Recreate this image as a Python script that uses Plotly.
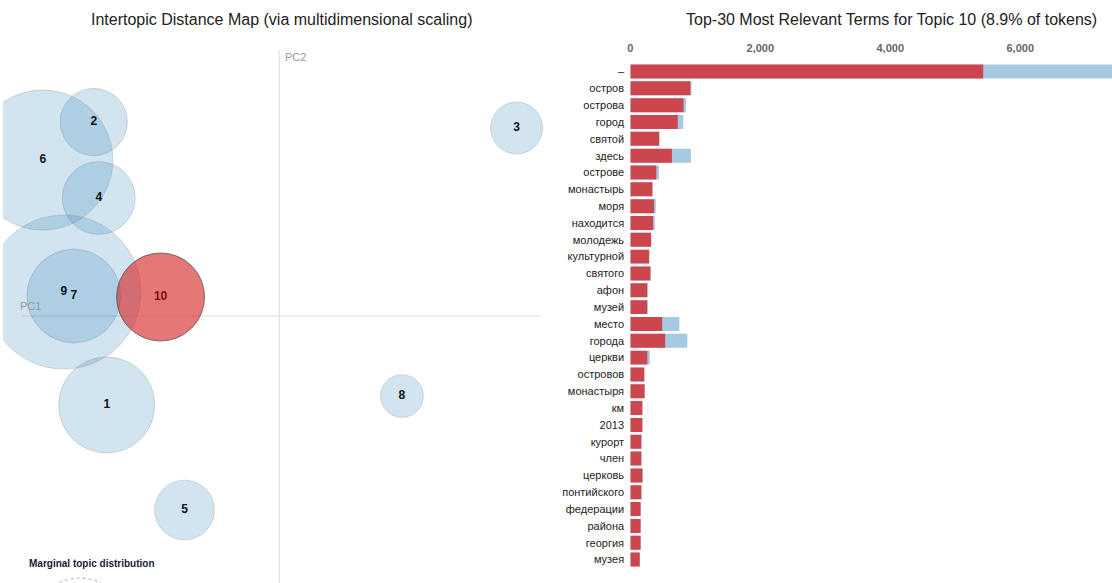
import numpy as np
import plotly.graph_objects as go

W, H = 1112, 583

# ---- topic map (MDS coordinates, marginal topic share in %) ----
topics = [1, 2, 3, 4, 5, 6, 7, 8, 9, 10]
pc1 = [-0.173, -0.186, 0.238, -0.181, -0.095, -0.237, -0.206, 0.123, -0.216, -0.119]
pc2 = [-0.089, 0.194, 0.188, 0.118, -0.194, 0.156, 0.020, -0.080, 0.024, 0.019]
topic_share = [10.6, 5.2, 3.1, 6.1, 4.1, 22.5, 10.1, 2.1, 27.3, 8.9]
selected_topic = 10
legend_share = 10

# ---- top-30 terms for the selected topic ----
terms = ["–", "остров", "острова", "город", "святой", "здесь", "острове", "монастырь",
         "моря", "находится", "молодежь", "культурной", "святого", "афон", "музей",
         "место", "города", "церкви", "островов", "монастыря", "км", "2013", "курорт",
         "член", "церковь", "понтийского", "федерации", "района", "георгия", "музея"]
topic_freq = [5430, 925, 820, 730, 445, 640, 400, 340, 365, 350, 320, 290, 310, 262, 262,
              490, 537, 262, 215, 220, 185, 185, 170, 170, 185, 170, 158, 158, 158, 145]
total_freq = [7600, 940, 857, 815, 447, 933, 440, 342, 393, 378, 322, 292, 312, 264, 264,
              755, 877, 300, 217, 222, 187, 187, 172, 172, 196, 172, 160, 160, 160, 147]
freq_ticks = [0, 2000, 4000, 6000]

FONT = "Liberation Sans, Arial, sans-serif"

# pixel layout helpers
def px_x(p):
    return p / W

def px_y(p):
    return 1 - p / H

PX_PER_UNIT = 1000.0          # map scale of the MDS panel
RADIUS_K = 14.75              # circle radius (px) per sqrt(% share)
map_left, map_right = 0, 545
origin_x, origin_y = 277, 316

x_range = [(map_left - origin_x) / PX_PER_UNIT, (map_right - origin_x) / PX_PER_UNIT]
y_range = [(origin_y - H) / PX_PER_UNIT, origin_y / PX_PER_UNIT]

sizes = [2 * RADIUS_K * np.sqrt(s) for s in topic_share]
fill = ["rgba(214,39,40,0.63)" if t == selected_topic else "rgba(31,119,180,0.2)" for t in topics]
edge = ["rgba(80,80,80,0.75)" if t == selected_topic else "rgba(150,150,150,0.35)" for t in topics]
label_col = ["#7a0f12" if t == selected_topic else "#111111" for t in topics]

fig = go.Figure()

fig.add_trace(go.Scatter(
    x=pc1, y=pc2, mode="markers+text",
    text=[f"<b>{t}</b>" for t in topics],
    textposition="middle center",
    textfont=dict(family=FONT, size=12, color=label_col),
    marker=dict(size=sizes, sizemode="diameter", color=fill, opacity=1,
                line=dict(color=edge, width=1)),
    xaxis="x", yaxis="y", hoverinfo="skip", showlegend=False, cliponaxis=True,
))

# bar chart: overall term frequency behind, topic-specific frequency in front
fig.add_trace(go.Bar(
    y=terms, x=total_freq, orientation="h", width=0.83,
    marker=dict(color="rgba(31,119,180,0.4)", line=dict(width=0)),
    xaxis="x2", yaxis="y2", name="Overall term frequency", showlegend=False,
))
fig.add_trace(go.Bar(
    y=terms, x=topic_freq, orientation="h", width=0.83,
    marker=dict(color="rgba(214,39,40,0.8)", line=dict(width=0)),
    xaxis="x2", yaxis="y2", name="Estimated term frequency within the selected topic",
    showlegend=False,
))

# bar panel geometry
row_step = 16.83
first_row = 71.5
bar_top = first_row - row_step / 2
bar_bottom = bar_top + row_step * len(terms)
bar_left = 629
units_per_px = 6000 / (1020 - bar_left)

fig.update_layout(
    width=W, height=H,
    margin=dict(l=0, r=0, t=0, b=0),
    paper_bgcolor="white", plot_bgcolor="white",
    barmode="overlay",
    font=dict(family=FONT, size=11, color="#333"),
    xaxis=dict(domain=[px_x(map_left), px_x(map_right)], range=x_range,
               visible=False, fixedrange=True),
    yaxis=dict(domain=[0, 1], range=y_range, visible=False, fixedrange=True),
    xaxis2=dict(domain=[px_x(bar_left), 1], range=[0, (W - bar_left) * units_per_px],
                side="top", anchor="y2", tickvals=freq_ticks, tickformat=",d",
                showgrid=False, zeroline=False, showline=False,
                ticks="outside", ticklen=6, tickcolor="rgba(0,0,0,0)",
                tickfont=dict(family=FONT, size=11, color="#666", weight="bold")),
    yaxis2=dict(domain=[px_y(bar_bottom), px_y(bar_top)], type="category",
                categoryorder="array", categoryarray=terms, autorange="reversed",
                anchor="x2", showgrid=False, zeroline=False, showline=False,
                ticks="outside", ticklen=3, tickcolor="rgba(0,0,0,0)",
                tickfont=dict(family=FONT, size=11, color="#222")),
    shapes=[
        dict(type="line", xref="x", yref="y", layer="below",
             x0=(18 - origin_x) / PX_PER_UNIT, x1=(540 - origin_x) / PX_PER_UNIT, y0=0, y1=0,
             line=dict(color="#dddddd", width=1)),
        dict(type="line", xref="x", yref="y", layer="below",
             x0=0, x1=0, y0=(origin_y - 50) / PX_PER_UNIT, y1=y_range[0],
             line=dict(color="#dddddd", width=1)),
        # marginal topic distribution legend circle
        dict(type="circle", xref="paper", yref="paper", layer="above",
             x0=px_x(77 - RADIUS_K * np.sqrt(legend_share)),
             x1=px_x(77 + RADIUS_K * np.sqrt(legend_share)),
             y0=px_y(578 + 2 * RADIUS_K * np.sqrt(legend_share)), y1=px_y(578),
             line=dict(color="#aaaaaa", width=1, dash="dot")),
    ],
    annotations=[
        dict(text="Intertopic Distance Map (via multidimensional scaling)",
             x=px_x(280), y=px_y(19), xref="paper", yref="paper", showarrow=False,
             xanchor="center", yanchor="middle", font=dict(size=16, color="#222")),
        dict(text=f"Top-30 Most Relevant Terms for Topic {selected_topic} ({topic_share[topics.index(selected_topic)]}% of tokens)",
             x=px_x(891), y=px_y(19), xref="paper", yref="paper", showarrow=False,
             xanchor="center", yanchor="middle", font=dict(size=16, color="#222")),
        dict(text="PC1", x=px_x(15), y=px_y(306), xref="paper", yref="paper",
             showarrow=False, xanchor="left", yanchor="middle",
             font=dict(size=11, color="#999")),
        dict(text="PC2", x=px_x(281), y=px_y(57), xref="paper", yref="paper",
             showarrow=False, xanchor="left", yanchor="middle",
             font=dict(size=11, color="#999")),
        dict(text="Marginal topic distribution", x=px_x(24), y=px_y(563),
             xref="paper", yref="paper", showarrow=False, xanchor="left",
             yanchor="middle", font=dict(size=10, color="#1a1a3a", weight="bold")),
    ],
)

fig.write_html("out.html")
